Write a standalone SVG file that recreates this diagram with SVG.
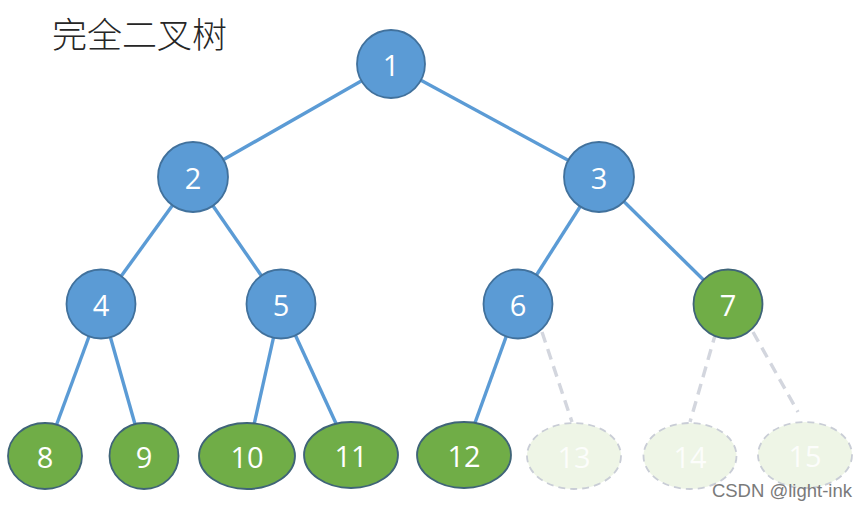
<svg xmlns="http://www.w3.org/2000/svg" width="867" height="509" viewBox="0 0 867 509">
<style>
.e{stroke:#5B9BD5;stroke-width:3.4;fill:none}
.d{stroke:#D3D6DE;stroke-width:3.4;fill:none;stroke-dasharray:11 7}
.b{fill:#5B9BD5;stroke:#41719C;stroke-width:1.8}
.g{fill:#70AD47;stroke:#3F6478;stroke-width:1.8}
.f{fill:#EEF5E6;stroke:#C9CDD6;stroke-width:1.8;stroke-dasharray:7 5}
.t{fill:#fff;font-family:"Open Sans","Liberation Sans",sans-serif;font-size:29px;text-anchor:middle;dominant-baseline:central}
.ft{fill:#fff;opacity:0.85}
</style>
<rect width="867" height="509" fill="#fff"/>
<text x="52" y="48" font-family="'Noto Sans CJK SC',sans-serif" font-size="35" font-weight="300" fill="#262626">完全二叉树</text>
<g id="connectors">
<line class="e" x1="391" y1="64" x2="193" y2="177"/>
<line class="e" x1="391" y1="64" x2="599" y2="177"/>
<line class="e" x1="193" y1="177" x2="101" y2="304"/>
<line class="e" x1="193" y1="177" x2="281" y2="304"/>
<line class="e" x1="599" y1="177" x2="518" y2="304"/>
<line class="e" x1="599" y1="177" x2="728" y2="304"/>
<line class="e" x1="101" y1="304" x2="45" y2="456"/>
<line class="e" x1="101" y1="304" x2="144" y2="456"/>
<line class="e" x1="281" y1="304" x2="247" y2="456"/>
<line class="e" x1="281" y1="304" x2="351" y2="456"/>
<line class="e" x1="518" y1="304" x2="463" y2="456"/>
<line class="d" x1="542" y1="332" x2="572" y2="422"/>
<line class="d" x1="716" y1="332" x2="690" y2="422"/>
<line class="d" x1="753" y1="332" x2="798" y2="412"/>
</g>
<g id="n1"><circle class="b" cx="391" cy="64" r="34"/><text class="t" x="391" y="64">1</text></g>
<g id="n2"><circle class="b" cx="193" cy="177" r="35"/><text class="t" x="193" y="177">2</text></g>
<g id="n3"><circle class="b" cx="599" cy="177" r="35"/><text class="t" x="599" y="177">3</text></g>
<g id="n4"><circle class="b" cx="101" cy="304" r="34.5"/><text class="t" x="101" y="304">4</text></g>
<g id="n5"><circle class="b" cx="281" cy="304" r="34.5"/><text class="t" x="281" y="304">5</text></g>
<g id="n6"><circle class="b" cx="518" cy="304" r="34.5"/><text class="t" x="518" y="304">6</text></g>
<g id="n7"><circle class="g" cx="728" cy="304" r="34.5"/><text class="t" x="728" y="304">7</text></g>
<g id="n8"><ellipse class="g" cx="45" cy="456" rx="37" ry="33"/><text class="t" x="45" y="456">8</text></g>
<g id="n9"><ellipse class="g" cx="144" cy="456" rx="34.5" ry="33"/><text class="t" x="144" y="456">9</text></g>
<g id="n10"><ellipse class="g" cx="247" cy="456" rx="48" ry="33"/><text class="t" x="247" y="456">10</text></g>
<g id="n11"><ellipse class="g" cx="351" cy="455" rx="47" ry="33"/><text class="t" x="351" y="455">11</text></g>
<g id="n12"><ellipse class="g" cx="464" cy="455" rx="47" ry="33"/><text class="t" x="464" y="455">12</text></g>
<g id="n13"><ellipse class="f" cx="574" cy="456" rx="47" ry="33"/><text class="t ft" x="574" y="456">13</text></g>
<g id="n14"><ellipse class="f" cx="690" cy="456" rx="46.5" ry="33"/><text class="t ft" x="690" y="456">14</text></g>
<g id="n15"><ellipse class="f" cx="805" cy="455" rx="47" ry="33"/><text class="t ft" x="805" y="455">15</text></g>
<text x="852" y="497" text-anchor="end" font-family="'Liberation Sans',sans-serif" font-size="18.5" fill="#7a7a7a">CSDN @light-ink</text>
</svg>
